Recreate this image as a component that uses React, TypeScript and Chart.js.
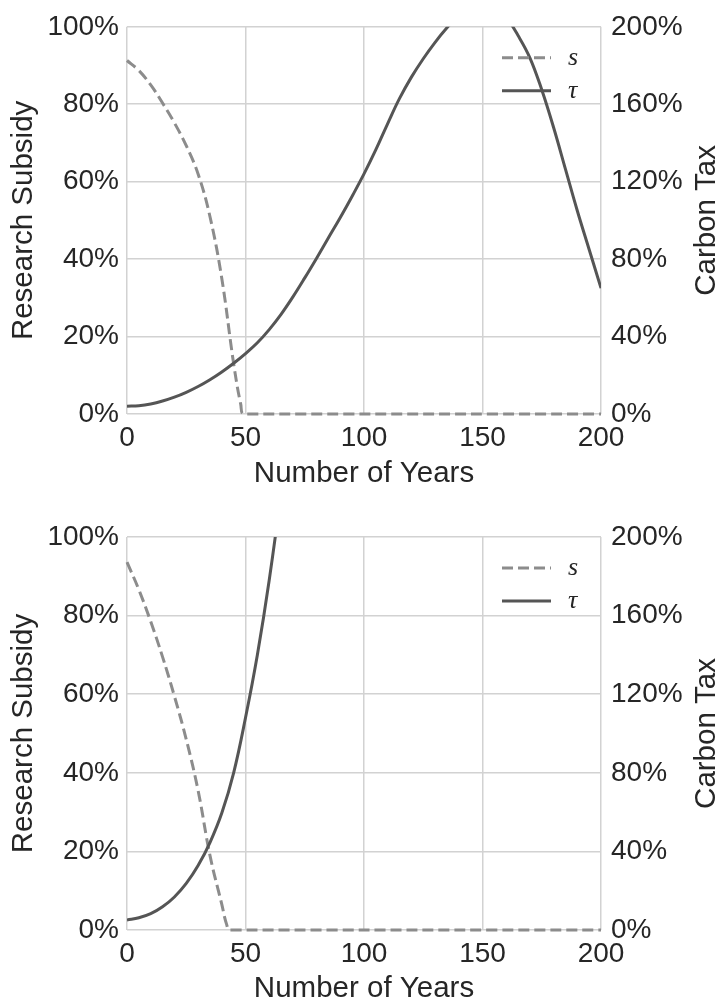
import React, { useEffect, useRef } from "react";
import { Chart, registerables } from "chart.js";

Chart.register(...registerables);

// ---------- data ----------
const X_TICKS = [0, 50, 100, 150, 200];
const LEFT_TICKS = [0, 20, 40, 60, 80, 100];
const RIGHT_TICKS = [0, 40, 80, 120, 160, 200];

const X_TITLE = "Number of Years";
const LEFT_TITLE = "Research Subsidy";
const RIGHT_TITLE = "Carbon Tax";
const SERIES_LABELS = ["s", "τ"];

// top panel: research subsidy s (%, left axis)
const TOP_S_YEARS = [0, 5, 10, 15, 20, 25, 30, 35, 40, 45, 48, 49.5, 200];
const TOP_S_VALUES = [91.3, 88.7, 85, 80.3, 75.2, 69.3, 62, 51, 35, 13, 2.5, 0, 0];

// top panel: carbon tax tau (%, right axis)
const TOP_TAU_YEARS = [
  0, 5, 10, 15, 20, 25, 30, 35, 40, 45, 50, 55, 60, 65, 70, 75, 80, 85, 90, 95, 100,
  105, 110, 115, 120, 125, 130, 135, 140, 145, 150, 155, 160, 165, 170, 175, 180, 185, 190, 195, 200,
];
const TOP_TAU_VALUES = [
  4, 4.3, 5.2, 6.7, 8.7, 11.2, 14.2, 17.7, 21.7, 26.2, 31.2, 36.8, 43.6, 51.5, 60.5, 70.3, 80.5, 91, 101.5, 112.5, 124,
  136.5, 150, 163, 174, 183.5, 192, 199.5, 206, 210.5, 212.5, 211, 205, 195.5, 184, 167.5, 148, 126.5, 105, 85, 65,
];

// bottom panel: research subsidy s
const BOTTOM_S_YEARS = [0, 5, 10, 15, 20, 25, 30, 35, 40, 42, 43.5, 200];
const BOTTOM_S_VALUES = [93.6, 86.6, 78.5, 69.5, 59.5, 48.5, 35.5, 19, 6.5, 1.5, 0, 0];

// bottom panel: carbon tax tau
const BOTTOM_TAU_YEARS = [0, 5, 10, 15, 20, 25, 30, 35, 40, 45, 50, 55, 60, 65, 70];
const BOTTOM_TAU_VALUES = [5.1, 6.2, 8.3, 11.8, 16.8, 23.7, 32.8, 44.5, 59.5, 80, 108, 140, 178, 223, 278];

// ---------- styles ----------
const FONT = "'Liberation Sans', Arial, Helvetica, sans-serif";
const TEXT = "#262626";
const GRID = "#d2d2d2";
const TAU_COLOR = "#555555";
const S_COLOR = "#8c8c8c";
const W = 718;

const decorPlugin = {
  id: "decor",
  afterDatasetsDraw(chart: any) {
    const { ctx, chartArea } = chart;
    const { right, top, bottom } = chartArea;
    const rows = [31, 64];
    ctx.save();
    chart.data.datasets.forEach((ds: any, i: number) => {
      const y = top + rows[i];
      ctx.beginPath();
      ctx.setLineDash(ds.borderDash || []);
      ctx.lineWidth = ds.borderWidth;
      ctx.strokeStyle = ds.borderColor;
      ctx.lineCap = "butt";
      ctx.moveTo(right - 99, y);
      ctx.lineTo(right - 50, y);
      ctx.stroke();
      ctx.setLineDash([]);
      ctx.fillStyle = TEXT;
      ctx.font = "italic 26px 'Liberation Serif', 'DejaVu Serif', serif";
      ctx.textBaseline = "alphabetic";
      ctx.textAlign = "left";
      ctx.fillText(SERIES_LABELS[i], right - 33, y + 7);
    });
    ctx.restore();

    ctx.save();
    ctx.translate(chart.width - 3, (top + bottom) / 2);
    ctx.rotate(-Math.PI / 2);
    ctx.font = `29.5px ${FONT}`;
    ctx.fillStyle = TEXT;
    ctx.textAlign = "center";
    ctx.textBaseline = "alphabetic";
    ctx.fillText(RIGHT_TITLE, 0, 0);
    ctx.restore();
  },
};

function toPoints(xs: number[], ys: number[]) {
  return xs.map((x, i) => ({ x, y: ys[i] }));
}

type PanelProps = {
  sYears: number[];
  sValues: number[];
  tYears: number[];
  tValues: number[];
  height: number;
  plotTop: number;
  plotBottom: number;
  xTitlePad: number;
};

function Panel(props: PanelProps) {
  const ref = useRef<HTMLCanvasElement | null>(null);
  useEffect(() => {
    const { sYears, sValues, tYears, tValues, height, plotTop, plotBottom, xTitlePad } = props;
    const tickFont = { size: 28, family: FONT };
    const titleFont = { size: 29.5, family: FONT };
    const chart = new Chart(ref.current as HTMLCanvasElement, {
      type: "line",
      data: {
        datasets: [
          {
            label: SERIES_LABELS[0],
            data: toPoints(sYears, sValues),
            yAxisID: "y",
            borderColor: S_COLOR,
            borderWidth: 3,
            borderDash: [11, 5],
            pointRadius: 0,
            tension: 0.4,
            order: 2,
            clip: 4,
          },
          {
            label: SERIES_LABELS[1],
            data: toPoints(tYears, tValues),
            yAxisID: "y2",
            borderColor: TAU_COLOR,
            borderWidth: 3,
            pointRadius: 0,
            tension: 0.4,
            order: 1,
            clip: 0,
          },
        ] as any,
      },
      options: {
        responsive: false,
        animation: false,
        layout: { padding: { top: plotTop, left: 0, right: 0, bottom: 0 } },
        plugins: { legend: { display: false }, tooltip: { enabled: false } },
        scales: {
          x: {
            type: "linear",
            min: 0,
            max: 200,
            afterBuildTicks: (s: any) => {
              s.ticks = X_TICKS.map((v) => ({ value: v }));
            },
            grid: { color: GRID, lineWidth: 1.5, drawTicks: false },
            border: { display: false },
            ticks: { font: tickFont, color: TEXT, padding: 7, maxRotation: 0, autoSkip: false },
            title: {
              display: true,
              text: X_TITLE,
              font: titleFont,
              color: TEXT,
              padding: { top: 0, bottom: xTitlePad },
            },
            afterFit: (s: any) => {
              s.height = height - plotBottom;
            },
          },
          y: {
            position: "left",
            min: 0,
            max: 100,
            afterBuildTicks: (s: any) => {
              s.ticks = LEFT_TICKS.map((v) => ({ value: v }));
            },
            grid: { color: GRID, lineWidth: 1.5, drawTicks: false },
            border: { display: false },
            ticks: {
              font: tickFont,
              color: TEXT,
              padding: 8,
              autoSkip: false,
              callback: (v: any) => v + "%",
            },
            title: {
              display: true,
              text: LEFT_TITLE,
              font: titleFont,
              color: TEXT,
              padding: { top: 6, bottom: 0 },
            },
            afterFit: (s: any) => {
              s.width = 127;
            },
          },
          y2: {
            position: "right",
            min: 0,
            max: 200,
            afterBuildTicks: (s: any) => {
              s.ticks = RIGHT_TICKS.map((v) => ({ value: v }));
            },
            grid: { display: false, drawTicks: false },
            border: { display: false },
            ticks: {
              font: tickFont,
              color: TEXT,
              padding: 10,
              autoSkip: false,
              callback: (v: any) => v + "%",
            },
            afterFit: (s: any) => {
              s.width = W - 601;
            },
          },
        },
      } as any,
      plugins: [decorPlugin],
    });
    return () => chart.destroy();
  }, []);
  return (
    <canvas
      ref={ref}
      width={W}
      height={props.height}
      style={{ display: "block", width: W, height: props.height }}
    />
  );
}

export default function App() {
  return (
    <div
      style={{
        position: "absolute",
        left: 0,
        top: 0,
        width: W,
        height: 1007,
        overflow: "hidden",
        background: "#ffffff",
      }}
    >
      <Panel
        sYears={TOP_S_YEARS}
        sValues={TOP_S_VALUES}
        tYears={TOP_TAU_YEARS}
        tValues={TOP_TAU_VALUES}
        height={500}
        plotTop={21}
        plotBottom={414}
        xTitlePad={8}
      />
      <Panel
        sYears={BOTTOM_S_YEARS}
        sValues={BOTTOM_S_VALUES}
        tYears={BOTTOM_TAU_YEARS}
        tValues={BOTTOM_TAU_VALUES}
        height={507}
        plotTop={37}
        plotBottom={430}
        xTitlePad={0}
      />
    </div>
  );
}
